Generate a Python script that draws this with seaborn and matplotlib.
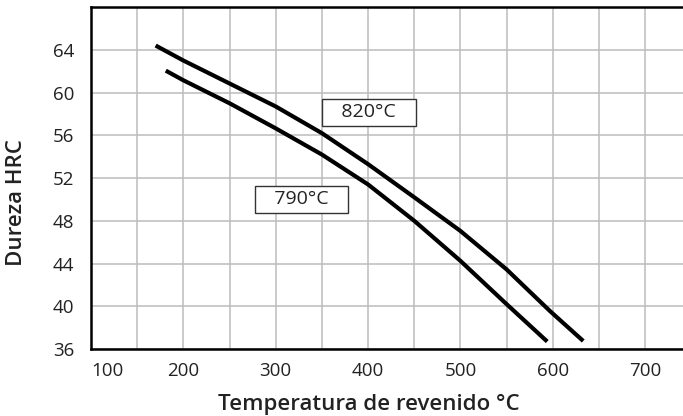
import pandas as pd
import matplotlib
matplotlib.use("Agg")
import matplotlib.pyplot as plt
import seaborn as sns

# ================================
# DATA
# ================================
temp_820 = [170, 200, 250, 300, 350, 400, 450, 500, 550, 597, 633]
hrc_820 = [64.4, 63.0, 60.85, 58.7, 56.2, 53.3, 50.2, 47.05, 43.45, 39.55, 36.75]

temp_790 = [181, 200, 250, 300, 350, 400, 450, 500, 550, 594]
hrc_790 = [62.05, 61.15, 59.0, 56.65, 54.2, 51.4, 48.0, 44.25, 40.2, 36.7]

series_names = ["820°C", "790°C"]
label_pos = {"820°C": (401, 58.15), "790°C": (328, 50.0)}

x_ticks = list(range(100, 750, 50))
x_labels = [str(t) if t % 100 == 0 else "" for t in x_ticks]
y_ticks = list(range(36, 68, 4))

df = pd.concat([
    pd.DataFrame({"temp": temp_820, "hrc": hrc_820, "serie": series_names[0]}),
    pd.DataFrame({"temp": temp_790, "hrc": hrc_790, "serie": series_names[1]}),
])

# ================================
# PLOT
# ================================
sns.set_theme(style="white")
plt.rcParams["font.family"] = ["Open Sans", "DejaVu Sans"]

fig = plt.figure(figsize=(6.83, 4.16), dpi=100)
ax = fig.add_axes([0.1332, 0.161, 0.8668, 0.822])

sns.lineplot(data=df, x="temp", y="hrc", hue="serie", units="serie",
             estimator=None, sort=False, palette={n: "black" for n in series_names},
             linewidth=3, legend=False, ax=ax, solid_capstyle="butt")

ax.set_xlim(100, 741)
ax.set_ylim(36, 68)
ax.set_xticks(x_ticks)
ax.set_xticklabels(x_labels)
ax.set_yticks(y_ticks)
ax.grid(True, color="#bcbcbc", linewidth=1.1)
ax.set_axisbelow(True)

ax.tick_params(axis="both", length=0, labelsize=13.5, labelcolor="#222222")
ax.tick_params(axis="x", pad=9)
ax.tick_params(axis="y", pad=12)
for lbl in ax.get_xticklabels() + ax.get_yticklabels():
    lbl.set_fontweight(500)
ax.get_xticklabels()[0].set_horizontalalignment("left")

for side in ["left", "bottom", "top"]:
    ax.spines[side].set_color("black")
    ax.spines[side].set_linewidth(1.8)
ax.spines["right"].set_visible(False)

ax.set_xlabel("")
ax.set_ylabel("")
fig.text(369 / 683, 1 - 404 / 416, "Temperatura de revenido °C", ha="center", va="center",
         fontsize=16, fontweight=600, color="#222222")
fig.text(17 / 683, 1 - 203 / 416, "Dureza HRC", ha="center", va="center", rotation=90,
         fontsize=16, fontweight=600, color="#222222")

for name in series_names:
    x, y = label_pos[name]
    ax.text(x, y, "   " + name + "   ", ha="center", va="center", fontsize=14,
            color="#222222",
            bbox=dict(boxstyle="square,pad=0.22", facecolor="white",
                      edgecolor="#333333", linewidth=1))

fig.savefig("out.png", dpi=100)
